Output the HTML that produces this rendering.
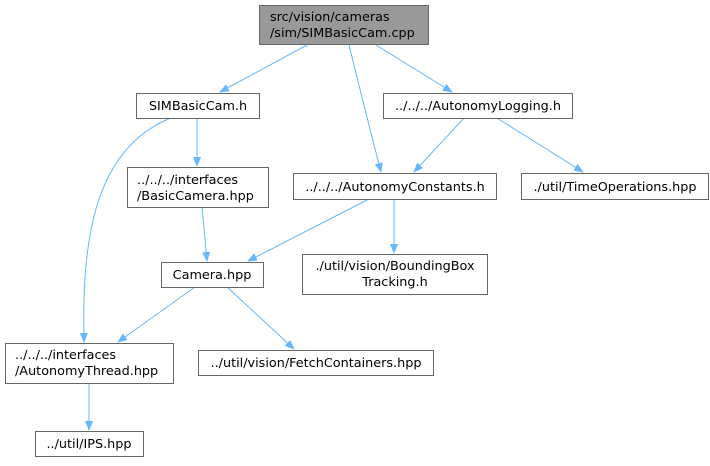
<!DOCTYPE html>
<html><head><style>
html,body{margin:0;padding:0;background:#fff;}
svg text{font-family:"DejaVu Sans","Liberation Sans",sans-serif;font-size:12.8px;fill:#000;}
</style></head><body>
<svg width="710" height="461" viewBox="0 0 710 461" xmlns="http://www.w3.org/2000/svg">
<defs><marker id="a" markerWidth="10" markerHeight="8" refX="9" refY="4" orient="auto" markerUnits="userSpaceOnUse"><path d="M0,0 L10,4 L0,8 z" fill="#63b8ff"/></marker></defs>
<g fill="none" stroke="#63b8ff" stroke-width="1" marker-end="url(#a)">
<path d="M307,45 L220,92"/>
<path d="M349,45 Q365,110 381,172"/>
<path d="M376,45 L452,92"/>
<path d="M197,118 L197,166"/>
<path d="M171,118 C90,150 82,250 84,342"/>
<path d="M464,118 L414,172"/>
<path d="M497,118 L583,172"/>
<path d="M202,207 L207,261"/>
<path d="M369,199 L248,261"/>
<path d="M394,199 L394,253"/>
<path d="M195,287 L118,342"/>
<path d="M227,287 L294,349"/>
<path d="M89,383 L89,430"/>
</g>
<g stroke="#666" stroke-width="1" fill="#fff">
<rect x="259.5" y="5.5" width="169" height="39" fill="#999"/>
<rect x="136.5" y="93.5" width="123" height="25"/>
<rect x="383.5" y="93.5" width="189" height="25"/>
<rect x="127.5" y="167.5" width="141" height="40"/>
<rect x="293.5" y="173.5" width="203" height="26"/>
<rect x="521.5" y="173.5" width="187" height="26"/>
<rect x="161.5" y="262.5" width="102" height="25"/>
<rect x="302.5" y="254.5" width="185" height="40"/>
<rect x="5.5" y="343.5" width="168" height="40"/>
<rect x="198.5" y="350.5" width="235" height="25"/>
<rect x="35.5" y="431.5" width="108" height="25"/>
</g>
<text x="270" y="21">src/vision/cameras</text>
<text x="270" y="37">/sim/SIMBasicCam.cpp</text>
<text x="198" y="110" text-anchor="middle">SIMBasicCam.h</text>
<text x="478" y="110" text-anchor="middle">../../../AutonomyLogging.h</text>
<text x="137" y="184">../../../interfaces</text>
<text x="137" y="200">/BasicCamera.hpp</text>
<text x="395" y="191" text-anchor="middle">../../../AutonomyConstants.h</text>
<text x="615" y="191" text-anchor="middle">./util/TimeOperations.hpp</text>
<text x="212" y="279" text-anchor="middle">Camera.hpp</text>
<text x="395" y="270" text-anchor="middle">./util/vision/BoundingBox</text>
<text x="395" y="286" text-anchor="middle">Tracking.h</text>
<text x="15" y="359">../../../interfaces</text>
<text x="15" y="375">/AutonomyThread.hpp</text>
<text x="316" y="367" text-anchor="middle">../util/vision/FetchContainers.hpp</text>
<text x="89" y="448" text-anchor="middle">../util/IPS.hpp</text>
</svg>
</body></html>
